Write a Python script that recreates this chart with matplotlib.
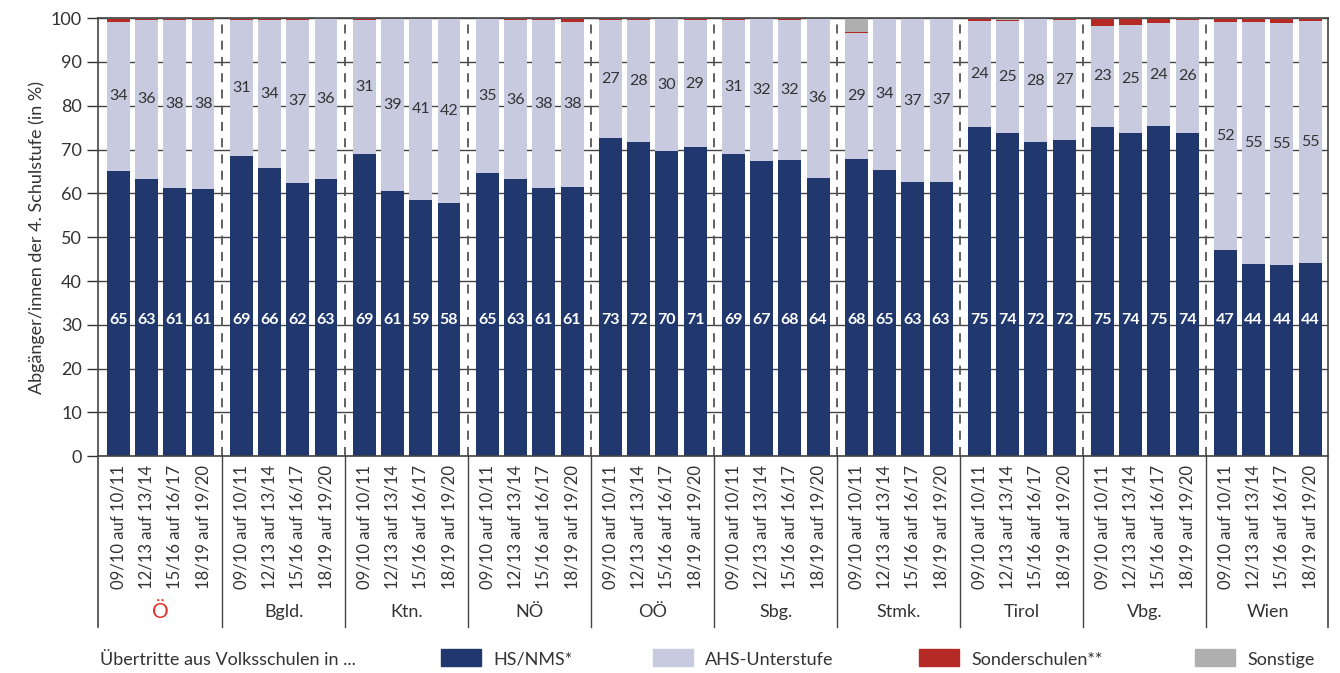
import numpy as np
import matplotlib.pyplot as plt
from matplotlib.patches import Rectangle
import matplotlib.transforms as mtransforms

plt.rcParams['font.family'] = ['Lato', 'DejaVu Sans']

regions = ["Ö", "Bgld.", "Ktn.", "NÖ", "OÖ", "Sbg.", "Stmk.", "Tirol", "Vbg.", "Wien"]
periods = ["09/10 auf 10/11", "12/13 auf 13/14", "15/16 auf 16/17", "18/19 auf 19/20"]

hs = [65.2, 63.3, 61.2, 61.1,
      68.6, 65.8, 62.4, 63.3,
      68.9, 60.6, 58.6, 57.9,
      64.6, 63.2, 61.2, 61.4,
      72.6, 71.7, 69.7, 70.6,
      69.0, 67.3, 67.6, 63.6,
      67.8, 65.4, 62.6, 62.7,
      75.1, 73.9, 71.7, 72.1,
      75.1, 73.7, 75.3, 73.9,
      47.0, 43.8, 43.6, 44.2]
ahs = [33.9, 36.3, 38.4, 38.4,
       31.0, 33.8, 37.2, 36.4,
       30.6, 39.1, 41.2, 41.9,
       35.1, 36.4, 38.4, 37.8,
       27.0, 27.9, 30.1, 28.9,
       30.6, 32.4, 32.0, 36.2,
       28.9, 34.4, 37.1, 37.1,
       24.2, 25.4, 28.1, 27.4,
       23.2, 24.8, 23.6, 25.7,
       52.2, 55.3, 55.4, 55.1]
sonder = [0.7, 0.2, 0.2, 0.2,
          0.3, 0.2, 0.3, 0.2,
          0.3, 0.2, 0.1, 0.1,
          0.2, 0.2, 0.2, 0.6,
          0.3, 0.2, 0.1, 0.3,
          0.3, 0.2, 0.3, 0.1,
          0.2, 0.1, 0.2, 0.0,
          0.5, 0.3, 0.1, 0.2,
          1.6, 1.4, 1.1, 0.3,
          0.7, 0.8, 0.7, 0.6]
sonstige = [0.2, 0.2, 0.2, 0.3,
            0.1, 0.2, 0.1, 0.1,
            0.2, 0.1, 0.1, 0.1,
            0.1, 0.2, 0.2, 0.2,
            0.1, 0.2, 0.1, 0.2,
            0.1, 0.1, 0.1, 0.1,
            3.1, 0.1, 0.1, 0.2,
            0.2, 0.4, 0.1, 0.3,
            0.1, 0.1, 0.0, 0.1,
            0.1, 0.1, 0.3, 0.1]

c_hs = '#21386e'
c_ahs = '#c8cbe0'
c_son = '#b52a25'
c_oth = '#afafaf'
dark = '#333333'

hs = np.array(hs); ahs = np.array(ahs); sonder = np.array(sonder); sonstige = np.array(sonstige)
period = 4.35
x = np.array([g * period + i for g in range(len(regions)) for i in range(4)])

fig = plt.figure(figsize=(13.4, 6.73), dpi=100)
ax = fig.add_axes([0.073, 0.322, 0.918, 0.651])

w = 0.81
ax.bar(x, hs, w, color=c_hs, zorder=2)
ax.bar(x, ahs, w, bottom=hs, color=c_ahs, zorder=2)
ax.bar(x, sonder, w, bottom=hs + ahs, color=c_son, zorder=2)
ax.bar(x, sonstige, w, bottom=hs + ahs + sonder, color=c_oth, zorder=2)

for xi, h, a in zip(x, hs, ahs):
    ax.text(xi, 31, f"{round(h)}", color='white', ha='center', va='center',
            fontsize=11.5, fontweight='bold', zorder=3)
    ax.text(xi, h + a / 2, f"{round(a)}", color=dark, ha='center', va='center',
            fontsize=11.5, zorder=3)

ax.set_xlim(-0.72, len(regions) * period - 0.72)
ax.set_ylim(0, 100)
ax.set_yticks(np.arange(0, 101, 10))
ax.tick_params(axis='y', labelsize=13, length=8, width=1, colors=dark, direction='out')
ax.yaxis.grid(True, color='#444444', linewidth=1, zorder=0)
ax.set_axisbelow(True)
ax.set_ylabel("Abgänger/innen der 4. Schulstufe (in %)", fontsize=13, color=dark)

ax.set_xticks(x)
ax.set_xticklabels(periods * len(regions), rotation=90, fontsize=12, color=dark)
ax.tick_params(axis='x', length=0, pad=6)

for s in ax.spines.values():
    s.set_color('#444444')
    s.set_linewidth(1.2)

trans = mtransforms.blended_transform_factory(ax.transData, ax.transAxes)
for g in range(1, len(regions)):
    xs = g * period - 0.675
    ax.plot([xs, xs], [0, 100], color='#555555', linestyle=(0, (5, 4)), linewidth=1.3, zorder=1.5)
    ax.plot([xs, xs], [0, -0.39], color='#444444', linewidth=1, transform=trans, clip_on=False)
for xs in [-0.72, len(regions) * period - 0.72]:
    ax.plot([xs, xs], [0, -0.39], color='#444444', linewidth=1.2, transform=trans, clip_on=False)

for g, name in enumerate(regions):
    if name == "Ö":
        ax.text(g * period + 1.5, -0.355, name, transform=trans, ha='center', va='center',
                fontsize=15, color='#e0352b')
    else:
        ax.text(g * period + 1.5, -0.355, name, transform=trans, ha='center', va='center',
                fontsize=13, color=dark)

# legend row
ly = 0.008
fig.text(0.075, ly, "Übertritte aus Volksschulen in ...", fontsize=13, color=dark, va='bottom')
for lx, col, lab in [(0.329, c_hs, "HS/NMS*"), (0.487, c_ahs, "AHS-Unterstufe"),
                     (0.686, c_son, "Sonderschulen**"), (0.892, c_oth, "Sonstige")]:
    fig.patches.append(Rectangle((lx, ly + 0.002), 0.03, 0.026, transform=fig.transFigure,
                                 color=col, figure=fig))
    fig.text(lx + 0.039, ly, lab, fontsize=13, color=dark, va='bottom')

plt.savefig('out.png', dpi=100)
